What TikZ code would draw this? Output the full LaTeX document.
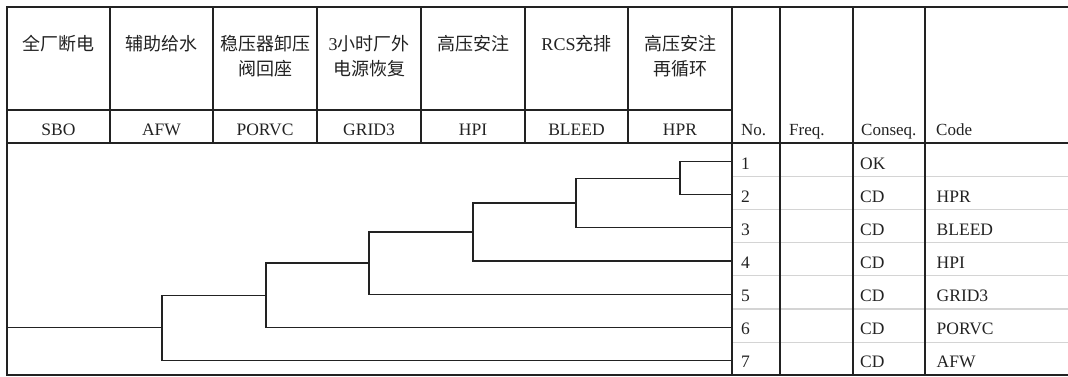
\documentclass[tikz,border=0pt]{standalone}
\usepackage{fontspec}
\newfontfamily\cjkf{Noto Sans CJK SC}
\newfontfamily\tms{Liberation Serif}
\definecolor{ink}{HTML}{222222}
\definecolor{rowline}{HTML}{D4D4D4}
\begin{document}
\begin{tikzpicture}[x=1pt,y=-1pt,
  grid/.style={draw=ink,line width=1.3pt},
  rowsep/.style={draw=rowline,line width=1.2pt},
  tree/.style={draw=ink,line width=1.2pt},
  cjkhead/.style={anchor=north,align=center,inner sep=0pt,text=ink,font=\cjkf\fontsize{18}{25}\selectfont},
  codehead/.style={anchor=base,inner sep=0pt,text=ink,font=\tms\fontsize{17.5}{21}\selectfont},
  colhead/.style={anchor=base west,inner sep=0pt,text=ink,font=\tms\fontsize{17}{20}\selectfont},
  cell/.style={anchor=base west,inner sep=0pt,text=ink,font=\tms\fontsize{17.5}{21}\selectfont}]

\useasboundingbox (0,0) rectangle (1068,376);

% row separators
\foreach \k in {1,...,6} \draw[rowsep] (732,{143.2+33.15*\k}) -- (1068,{143.2+33.15*\k});

% grid
\draw[grid] (1068,7) -- (7,7) -- (7,375) -- (1068,375);
\draw[grid] (7,143) -- (1068,143);
\draw[grid] (7,110) -- (732,110);
\foreach \x in {780,853,925} \draw[grid] (\x,7) -- (\x,375);
\draw[grid,line width=1.6pt] (732,7) -- (732,375);
\foreach \x in {110,213,317,421,525,628} \draw[grid] (\x,7) -- (\x,143);

% header texts
\node[cjkhead] (h1) at (58.5,35) {全厂断电};
\node[cjkhead] (h2) at (161.5,35) {辅助给水};
\node[cjkhead] (h3) at (265,35) {稳压器卸压\\阀回座};
\node[cjkhead] (h4) at (369,35) {{\tms 3}小时厂外\\电源恢复};
\node[cjkhead] (h5) at (473,35) {高压安注};
\node[cjkhead] (h6) at (576.5,35) {{\tms RCS}充排};
\node[cjkhead] (h7) at (680,35) {高压安注\\再循环};

\node[codehead] (c1) at (58.5,135) {SBO};
\node[codehead] (c2) at (161.5,135) {AFW};
\node[codehead] (c3) at (265,135) {PORVC};
\node[codehead] (c4) at (369,135) {GRID3};
\node[codehead] (c5) at (473,135) {HPI};
\node[codehead] (c6) at (576.5,135) {BLEED};
\node[codehead] (c7) at (680,135) {HPR};

\node[colhead] (kno) at (741,135) {No.};
\node[colhead] (kfreq) at (789,135) {Freq.};
\node[colhead] (kcons) at (861,135) {Conseq.};
\node[colhead] (kcode) at (936,135) {Code};

% result rows
\foreach \i/\cons/\code in {1/OK/,2/CD/HPR,3/CD/BLEED,4/CD/HPI,5/CD/GRID3,6/CD/PORVC,7/CD/AFW}{
  \node[cell] (n\i) at (741,{169+33.15*(\i-1)}) {\i};
  \node[cell] (q\i) at (860,{169+33.15*(\i-1)}) {\cons};
  \node[cell] (d\i) at (936.5,{169+33.15*(\i-1)}) {\code};
}

% event tree
\foreach \i in {1,...,7} \coordinate (e\i) at (732,{161.5+33.15*(\i-1)});
\coordinate (A) at (680,178.1);
\coordinate (B) at (576,202.95);
\coordinate (C) at (473,231.95);
\coordinate (D) at (369,263.0);
\coordinate (E) at (266,295.1);
\coordinate (F) at (162,327.8);
\coordinate (root) at (7,327.8);

\draw[tree] (e1) -| (A) |- (e2);
\draw[tree] (A) -| (B) |- (e3);
\draw[tree] (B) -| (C) |- (e4);
\draw[tree] (C) -| (D) |- (e5);
\draw[tree] (D) -| (E) |- (e6);
\draw[tree] (E) -| (F) |- (e7);
\draw[tree] (root) -- (F);
\end{tikzpicture}
\end{document}
